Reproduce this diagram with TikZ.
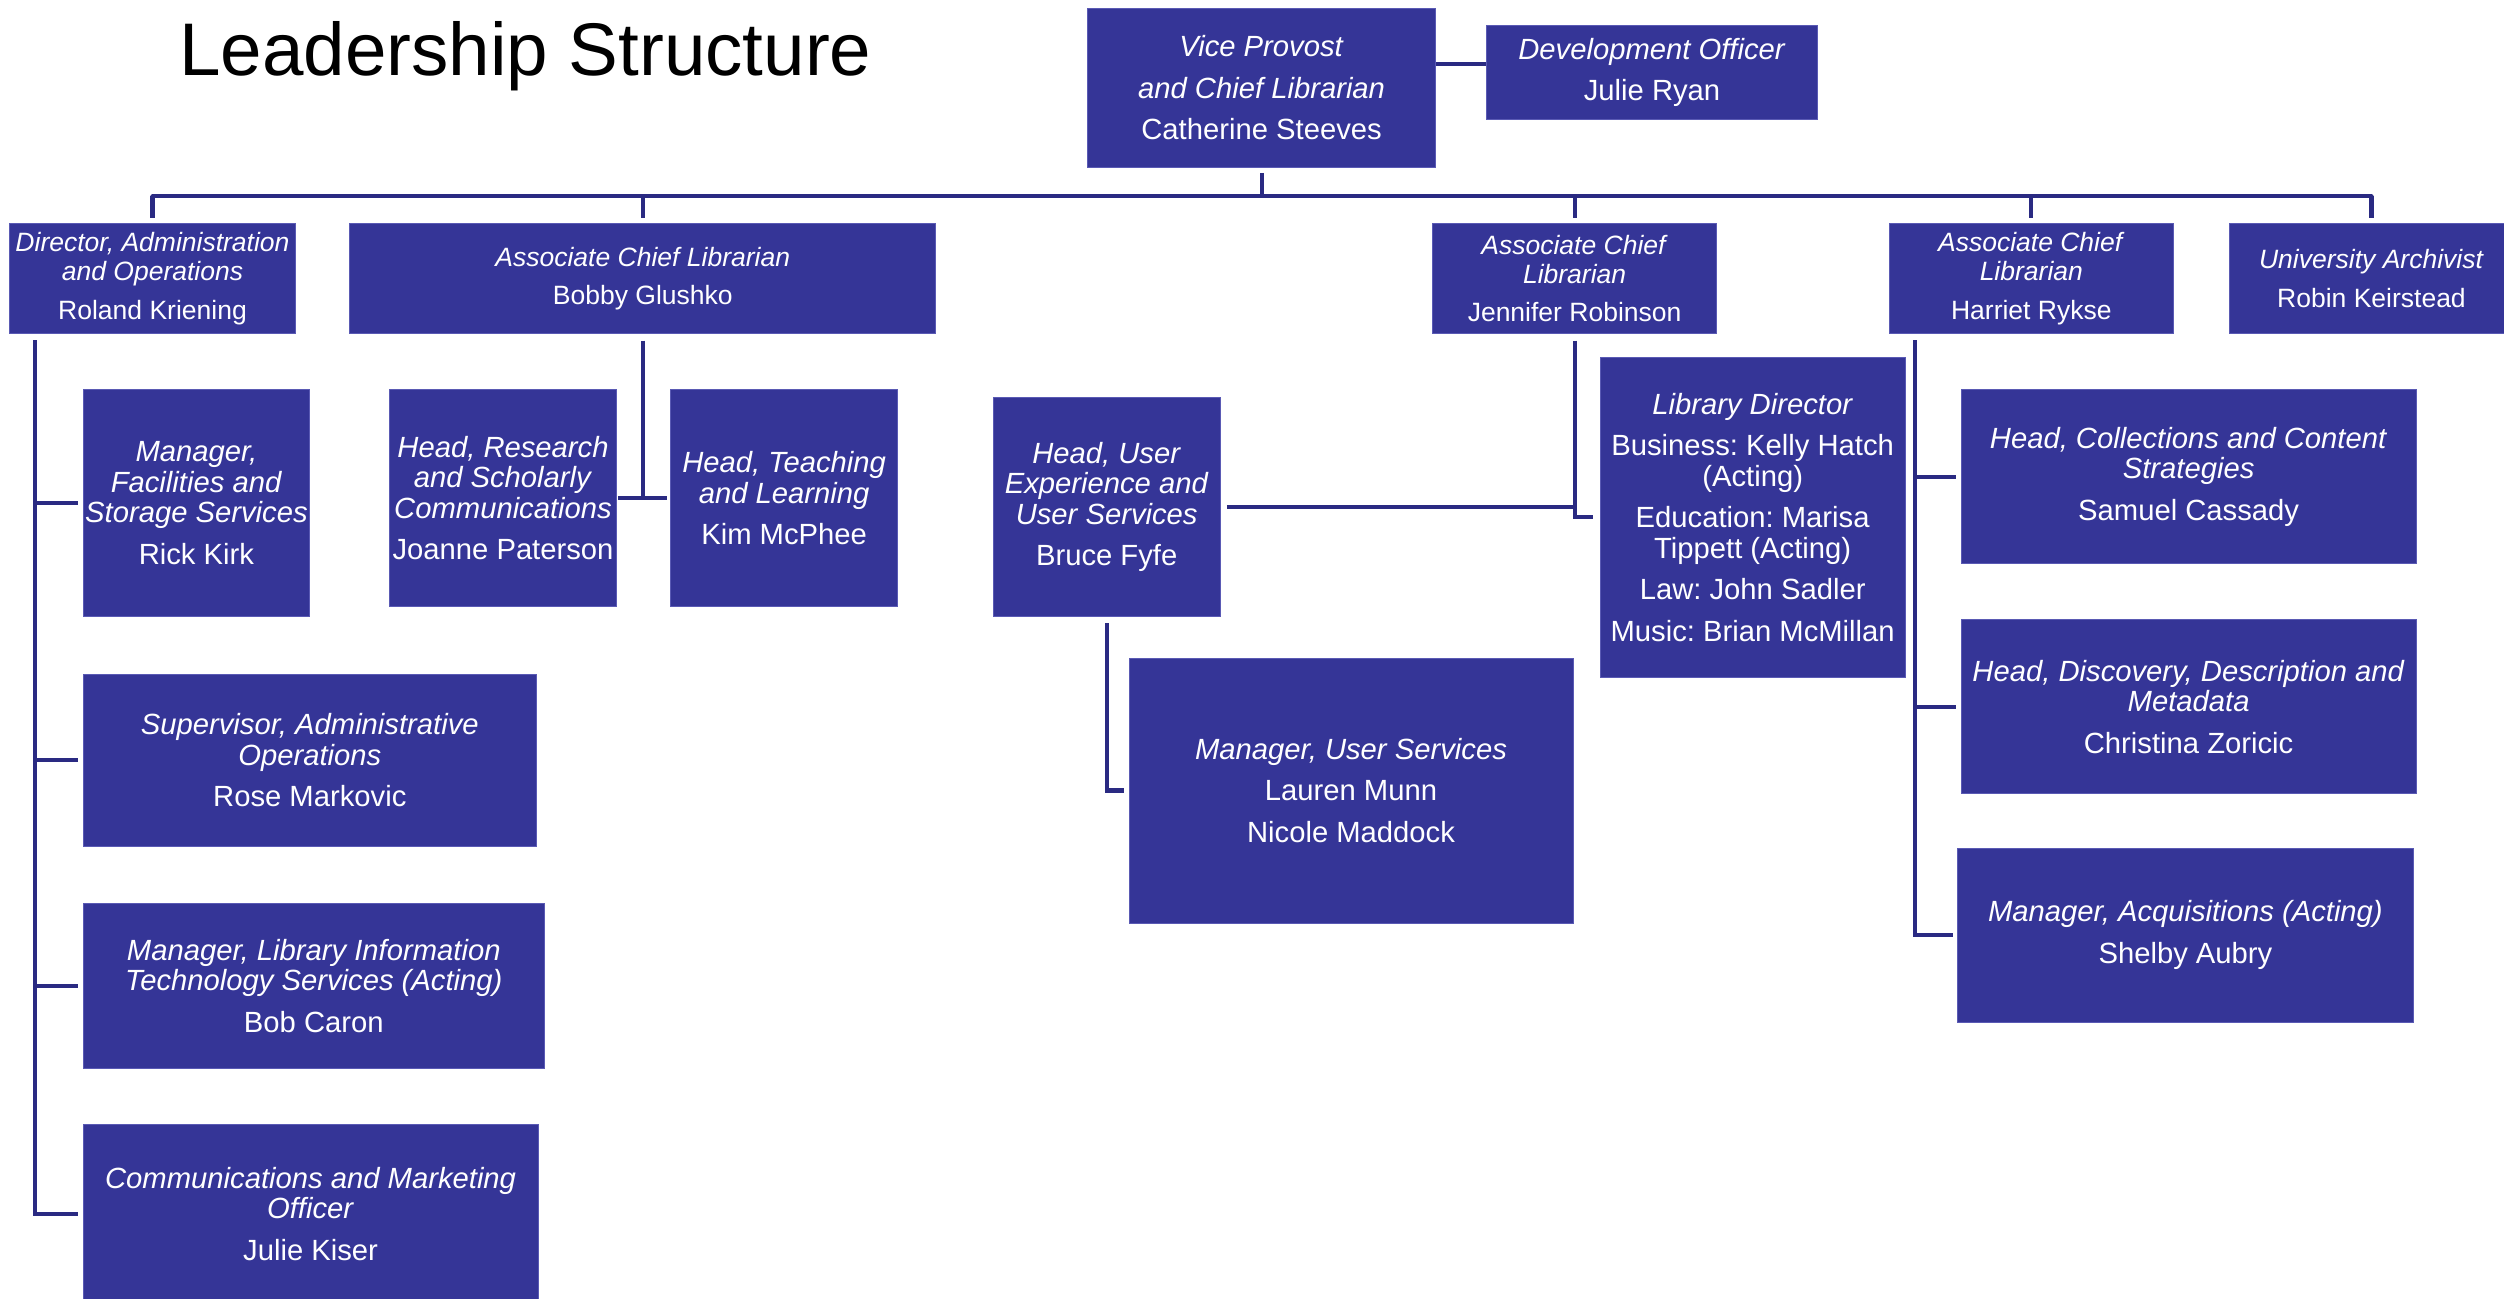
\documentclass[tikz,border=0pt]{standalone}
\usepackage{fontspec}
\setmainfont{Liberation Sans}
\frenchspacing
\definecolor{boxblue}{RGB}{53,53,151}
\definecolor{boxedge}{RGB}{90,90,180}
\definecolor{linkblue}{RGB}{42,42,130}
\newcommand\bigf{\fontsize{18.3}{19}\selectfont\frenchspacing}
\newcommand\smallf{\fontsize{16.6}{18}\selectfont\frenchspacing}
\begin{document}
\begin{tikzpicture}[x=1pt,y=-1pt,
  orgbox/.style={rectangle, fill=boxblue, draw=boxedge, line width=0.5pt, text=white,
    align=center, inner sep=0pt, font=\bigf},
  smallbox/.style={orgbox, font=\smallf},
  conn/.style={draw=linkblue, line width=2.6pt},
]
\useasboundingbox (0,0) rectangle (1568,813);

% title
\node[anchor=base west, inner sep=0pt, font=\fontsize{46.7}{50}\selectfont] (title) at (112,47) {Leadership Structure};

% top
\node[orgbox, minimum width=218, minimum height=100] (vp) at (790,55)
  {\textit{Vice Provost}\\[7pt]\textit{and Chief Librarian}\\[7pt]Catherine Steeves};
\node[orgbox, minimum width=207, minimum height=59] (dev) at (1034.5,45.5)
  {\textit{Development Officer}\\[7pt]Julie Ryan};

% second row
\node[smallbox, minimum width=179, minimum height=69] (dir) at (95.5,174.5)
  {\textit{Director, Administration}\\\textit{and Operations}\\[6pt]Roland Kriening};
\node[smallbox, minimum width=367, minimum height=69] (glu) at (402.5,174.5)
  {\textit{Associate Chief Librarian}\\[6pt]Bobby Glushko};
\node[smallbox, minimum width=178, minimum height=69] (rob) at (986,174.5)
  {\textit{Associate Chief}\\\textit{Librarian}\\[6pt]Jennifer Robinson};
\node[smallbox, minimum width=178, minimum height=69] (ryk) at (1272,174.5)
  {\textit{Associate Chief}\\\textit{Librarian}\\[6pt]Harriet Rykse};
\node[smallbox, minimum width=178, minimum height=69] (arc) at (1485,174.5)
  {\textit{University Archivist}\\[6pt]Robin Keirstead};

% director's reports
\node[orgbox, minimum width=142, minimum height=142] (kirk) at (123,315)
  {\textit{Manager,}\\\textit{Facilities and}\\\textit{Storage Services}\\[7pt]Rick Kirk};
\node[orgbox, minimum width=284, minimum height=108] (sup) at (194,476)
  {\textit{Supervisor, Administrative}\\\textit{Operations}\\[7pt]Rose Markovic};
\node[orgbox, minimum width=289, minimum height=103] (lits) at (196.5,617.5)
  {\textit{Manager, Library Information}\\\textit{Technology Services (Acting)}\\[7pt]Bob Caron};
\node[orgbox, minimum width=285, minimum height=112] (com) at (194.5,760)
  {\textit{Communications and Marketing}\\\textit{Officer}\\[7pt]Julie Kiser};

% Glushko's reports
\node[orgbox, minimum width=142, minimum height=136] (res) at (315,312)
  {\textit{Head, Research}\\\textit{and Scholarly}\\\textit{Communications}\\[7pt]Joanne Paterson};
\node[orgbox, minimum width=142, minimum height=136] (tea) at (491,312)
  {\textit{Head, Teaching}\\\textit{and Learning}\\[7pt]Kim McPhee};

% Robinson's reports
\node[orgbox, minimum width=142, minimum height=137] (fyfe) at (693,317.5)
  {\textit{Head, User}\\\textit{Experience and}\\\textit{User Services}\\[7pt]Bruce Fyfe};
\node[orgbox, minimum width=278, minimum height=166] (mus) at (846,495)
  {\textit{Manager, User Services}\\[7pt]Lauren Munn\\[7pt]Nicole Maddock};
\node[orgbox, minimum width=191, minimum height=200] (lib) at (1097.5,324)
  {\textit{Library Director}\\[7pt]Business: Kelly Hatch\\(Acting)\\[7pt]Education: Marisa\\Tippett (Acting)\\[7pt]Law: John Sadler\\[7pt]Music: Brian McMillan};

% Rykse's reports
\node[orgbox, minimum width=285, minimum height=109] (col) at (1370.5,298.5)
  {\textit{Head, Collections and Content}\\\textit{Strategies}\\[7pt]Samuel Cassady};
\node[orgbox, minimum width=285, minimum height=109] (dis) at (1370.5,442.5)
  {\textit{Head, Discovery, Description and}\\\textit{Metadata}\\[7pt]Christina Zoricic};
\node[orgbox, minimum width=285, minimum height=109] (acq) at (1368.5,585.5)
  {\textit{Manager, Acquisitions (Acting)}\\[7pt]Shelby Aubry};

% connectors
\coordinate (bus) at (0,123);
\coordinate (devlevel) at (0,40);
\draw[conn] (vp.east |- devlevel) -- (dev.west |- devlevel);
\draw[conn, shorten <=3pt] (vp.south) -- (vp.south |- bus);
\draw[conn, line cap=round] (dir.north |- bus) -- (arc.north |- bus);
\foreach \n in {dir,glu,rob,ryk,arc}
  \draw[conn, shorten >=3pt] (\n.north |- bus) -- (\n.north);

% director spine
\coordinate (dspine) at (22,213);
\draw[conn] (dspine) |- ([xshift=-3pt]com.west);
\foreach \n in {kirk,sup,lits}
  \draw[conn] (\n.west -| dspine) -- ([xshift=-3pt]\n.west);

% Glushko
\draw[conn, shorten <=4pt] (glu.south) -- (glu.south |- res.east);
\draw[conn, shorten <=1pt, shorten >=2pt] (res.east) -- (tea.west);

% Robinson
\draw[conn, shorten <=4pt, shorten >=4pt] (rob.south) |- (lib.west);
\draw[conn, shorten <=4pt] (fyfe.east) -- (fyfe.east -| rob.south);
\draw[conn, shorten <=4pt, shorten >=3pt] (fyfe.south) |- (mus.west);

% Rykse spine
\coordinate (rspine) at (1199,213);
\draw[conn] (rspine) |- ([xshift=-3pt]acq.west);
\foreach \n in {col,dis}
  \draw[conn] (\n.west -| rspine) -- ([xshift=-3pt]\n.west);
\end{tikzpicture}
\end{document}
